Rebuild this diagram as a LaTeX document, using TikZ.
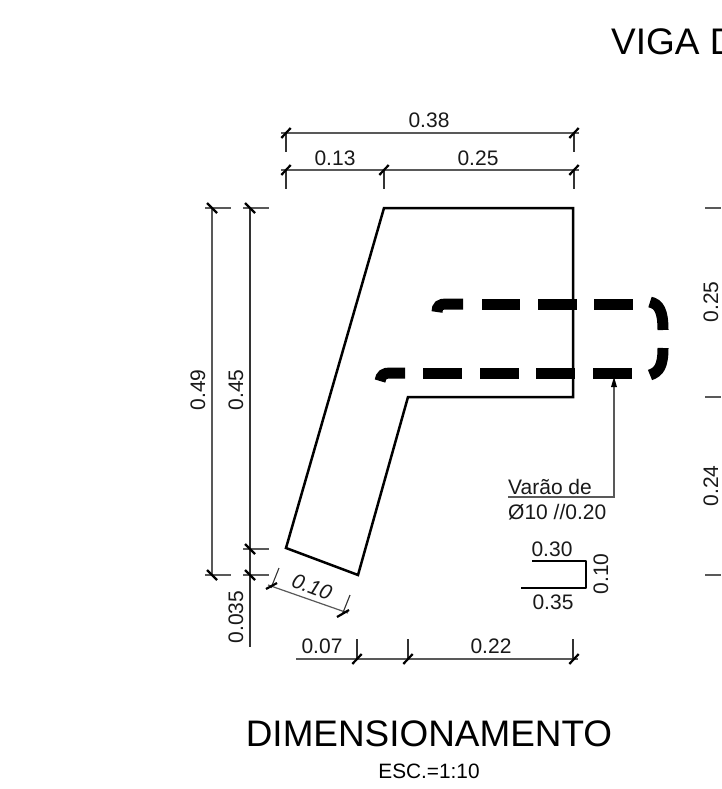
\documentclass[tikz,border=0pt]{standalone}
\usepackage{fontspec}
\setmainfont{Liberation Sans}
\tikzset{
 dimline/.style={line width=1.2pt,draw=black!65},
 extline/.style={line width=1.1pt,draw=black!80},
 tickmark/.style={line width=2.2pt,draw=black},
 outline/.style={line width=2.5pt,draw=black,line join=miter},
 rebar/.style={line width=11pt,draw=black},
 lbl/.style={font=\fontsize{21}{21}\selectfont,inner sep=0pt,text=black!90}
}
\newcommand{\tickat}[2]{\draw[tickmark] (#1-4.7,#2+5) -- (#1+4.7,#2-5);}
\newcommand{\tickrev}[2]{\draw[tickmark] (#1-5,#2-5) -- (#1+5,#2+5);}
\begin{document}
\begin{tikzpicture}[x=1pt,y=-1pt]
\useasboundingbox[fill=white] (0,0) rectangle (721,789);
% section outline
\draw[outline] (384,208) coordinate (a) -- (573,208) coordinate (b) -- (573,397) coordinate (c) -- (408,397) coordinate (d) -- (358,575) coordinate (e) -- (286,548) coordinate (f) -- cycle;
% rebar
\draw[rebar] (437,312) .. controls (437,306) and (440,304) .. (446,304) -- (463,304);
\draw[rebar] (482,304) -- (520,304) (538,304) -- (577,304) (594,304) -- (633,304);
\draw[rebar] (650,302) .. controls (659,304) and (663,311) .. (663,330);
\draw[rebar] (663,348) .. controls (663,366) and (659,372) .. (650,375);
\draw[rebar] (380,381) .. controls (381,375) and (384,373) .. (390,373) -- (405,373);
\draw[rebar] (423,373) -- (462,373) (480,373) -- (519,373) (536,373) -- (575,373) (593,373) -- (632,373);
% top dimensions
\draw[dimline] (281,133) -- (579,133);
\draw[extline] (286,133) -- (286,152) (574,133) -- (574,152);
\tickat{286}{133}\tickat{574}{133}
\draw[dimline] (281,170) -- (579,170);
\draw[extline] (286,170) -- (286,189) (384,170) -- (384,189) (574,170) -- (574,189);
\tickat{286}{170}\tickat{384}{170}\tickat{574}{170}
\node[lbl] (t38) at (429,120) {0.38};
\node[lbl] (t13) at (335,158) {0.13};
\node[lbl] (t25) at (478,158) {0.25};
% left dimensions
\draw[dimline] (205,208) -- (231,208) (205,575) -- (231,575);
\draw[dimline] (212,208) -- (212,575);
\tickrev{212}{208}\tickrev{212}{575}
\draw[dimline] (243,208) -- (269,208) (243,549) -- (269,549) (243,575) -- (269,575);
\draw[extline] (250,208) -- (250,647);
\tickrev{250}{208}\tickrev{250}{549}\tickrev{250}{575}
\node[lbl,rotate=90] (l49) at (198,390) {0.49};
\node[lbl,rotate=90] (l45) at (236,390) {0.45};
\node[lbl,rotate=90] (l035) at (236,617) {0.035};
% inclined
\draw[dimline] (268,585) -- (348,613);
\draw[extline] (271,588) -- (279,568) (342,615) -- (350,595);
\draw[tickmark] (266,589) -- (277,583);
\draw[tickmark] (337,617) -- (349,610);
\node[lbl,rotate=-21,font=\itshape\fontsize{21}{21}\selectfont] (i10) at (312,587) {0.10};
% bottom dims
\draw[dimline] (296,659) -- (578,659);
\draw[extline] (357,639) -- (357,659) (408,639) -- (408,659) (573,639) -- (573,659);
\tickat{357}{659}\tickat{408}{659}\tickat{574}{659}
\node[lbl] (b07) at (322,646) {0.07};
\node[lbl] (b22) at (491,646) {0.22};
% leader
\draw[dimline] (508,497) -- (614,497) -- (614,381);
\fill[black] (614,377) -- (611,387) -- (617,387) -- cycle;
\node[lbl,anchor=base west] (v1) at (508,494) {Varão de};
\node[lbl,anchor=base west] (v2) at (508,519) {Ø10 //0.20};
% bar schedule
\draw[line width=2.2pt,line join=round] (532,561) -- (586,561) -- (586,588) -- (521,588);
\node[lbl] (s30) at (552,549) {0.30};
\node[lbl] (s35) at (553,602) {0.35};
\node[lbl,rotate=90] (s10) at (601,574) {0.10};
% right side
\node[lbl,rotate=90] (r25) at (711,302) {0.25};
\node[lbl,rotate=90] (r24) at (711,486) {0.24};
\draw[dimline] (705,208) -- (721,208) (705,397) -- (721,397) (705,575) -- (721,575);
% titles
\node[anchor=base west,inner sep=0pt,font=\fontsize{37}{37}\selectfont] (viga) at (611,55) {VIGA D};
\node[anchor=base,inner sep=0pt,font=\fontsize{36.9}{37}\selectfont] (dim) at (429,746) {DIMENSIONAMENTO};
\node[anchor=base,inner sep=0pt,font=\fontsize{20.8}{21}\selectfont] (esc) at (429,778) {ESC.=1:10};
\end{tikzpicture}
\end{document}
